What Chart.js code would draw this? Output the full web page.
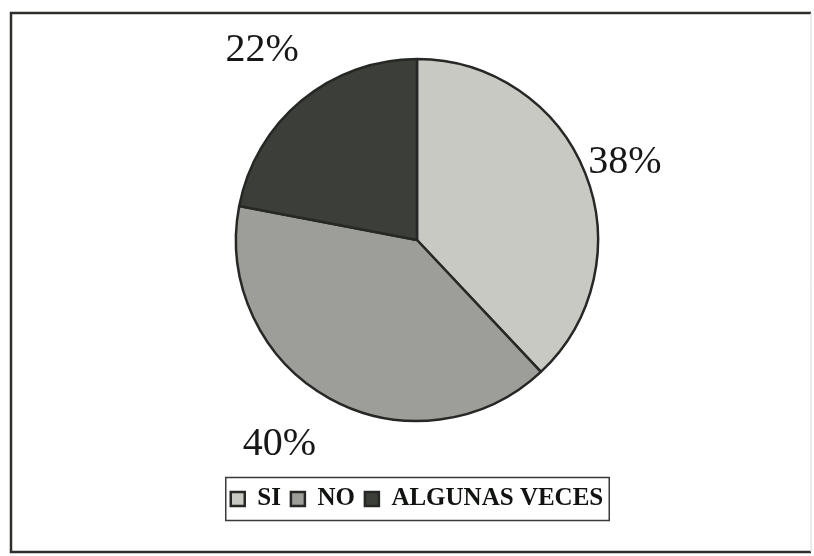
<!DOCTYPE html>
<html>
<head>
<meta charset="utf-8">
<script src="https://cdn.jsdelivr.net/npm/chart.js@4.4.1/dist/chart.umd.min.js"></script>
<style>
  html, body { margin: 0; padding: 0; background: #ffffff; }
  #wrap { width: 814px; height: 556px; }
</style>
</head>
<body>
<div id="wrap"><canvas id="c" width="814" height="556"></canvas></div>
<script>
// Data
const categories = ['SI', 'NO', 'ALGUNAS VECES'];
const values = [38, 40, 22];
const percentLabels = ['38%', '40%', '22%'];

// Styles
const sliceColors = ['#c9c9c4', '#9d9d99', '#3b3e39'];
const labelPlacement = [
  { f: 1.23, dx: 1, dy: 4 },
  { f: 1.36, dx: -19, dy: -11 },
  { f: 1.36, dx: 2, dy: 0 }
];

const framePlugin = {
  id: 'frame',
  beforeDraw(chart) {
    const ctx = chart.ctx;
    ctx.save();
    ctx.fillStyle = '#ffffff';
    ctx.fillRect(0, 0, chart.width, chart.height);
    ctx.strokeStyle = '#2c2f2b';
    ctx.lineWidth = 2.5;
    ctx.beginPath();
    ctx.moveTo(811, 13);
    ctx.lineTo(11, 13);
    ctx.lineTo(11, 552);
    ctx.lineTo(811, 552);
    ctx.stroke();
    ctx.strokeStyle = '#d8d8d8';
    ctx.lineWidth = 1;
    ctx.beginPath();
    ctx.moveTo(811, 13);
    ctx.lineTo(811, 552);
    ctx.stroke();
    ctx.restore();
  },
  afterDraw(chart) {
    const ctx = chart.ctx;
    // legend box
    const lg = chart.legend;
    if (lg && lg.legendHitBoxes && lg.legendHitBoxes.length) {
      const hb = lg.legendHitBoxes;
      let l = Infinity, r = -Infinity, t = Infinity, b = -Infinity;
      hb.forEach(h => {
        l = Math.min(l, h.left); r = Math.max(r, h.left + h.width);
        t = Math.min(t, h.top); b = Math.max(b, h.top + h.height);
      });
      ctx.save();
      ctx.strokeStyle = '#3a3a3a';
      ctx.lineWidth = 1.5;
      ctx.strokeRect(l - 5, t - 9, (r - l) + 11, (b - t) + 18);
      ctx.restore();
    }
    // percentage labels
    const meta = chart.getDatasetMeta(0);
    ctx.save();
    ctx.fillStyle = '#161816';
    ctx.font = '40px "Liberation Serif", "Times New Roman", serif';
    ctx.textAlign = 'center';
    ctx.textBaseline = 'middle';
    meta.data.forEach((arc, i) => {
      const p = arc.getProps(['x', 'y', 'startAngle', 'endAngle', 'outerRadius'], true);
      const mid = (p.startAngle + p.endAngle) / 2;
      const pl = labelPlacement[i];
      const x = p.x + Math.cos(mid) * p.outerRadius * pl.f + pl.dx;
      const y = p.y + Math.sin(mid) * p.outerRadius * pl.f + pl.dy;
      ctx.fillText(percentLabels[i], x, y);
    });
    ctx.restore();
  }
};

new Chart(document.getElementById('c'), {
  type: 'pie',
  data: {
    labels: categories,
    datasets: [{
      data: values,
      backgroundColor: sliceColors,
      borderColor: '#262826',
      borderWidth: 2.5,
      radius: 181
    }]
  },
  options: {
    responsive: false,
    animation: false,
    layout: { padding: { top: 3.5, bottom: 34.5, left: 60, right: 40 } },
    plugins: {
      tooltip: { enabled: false },
      legend: {
        position: 'bottom',
        labels: {
          boxWidth: 14,
          boxHeight: 14,
          padding: 10,
          color: '#111311',
          font: { family: '"Liberation Serif", "Times New Roman", serif', size: 25, weight: 'bold' }
        }
      }
    }
  },
  plugins: [framePlugin]
});
</script>
</body>
</html>
